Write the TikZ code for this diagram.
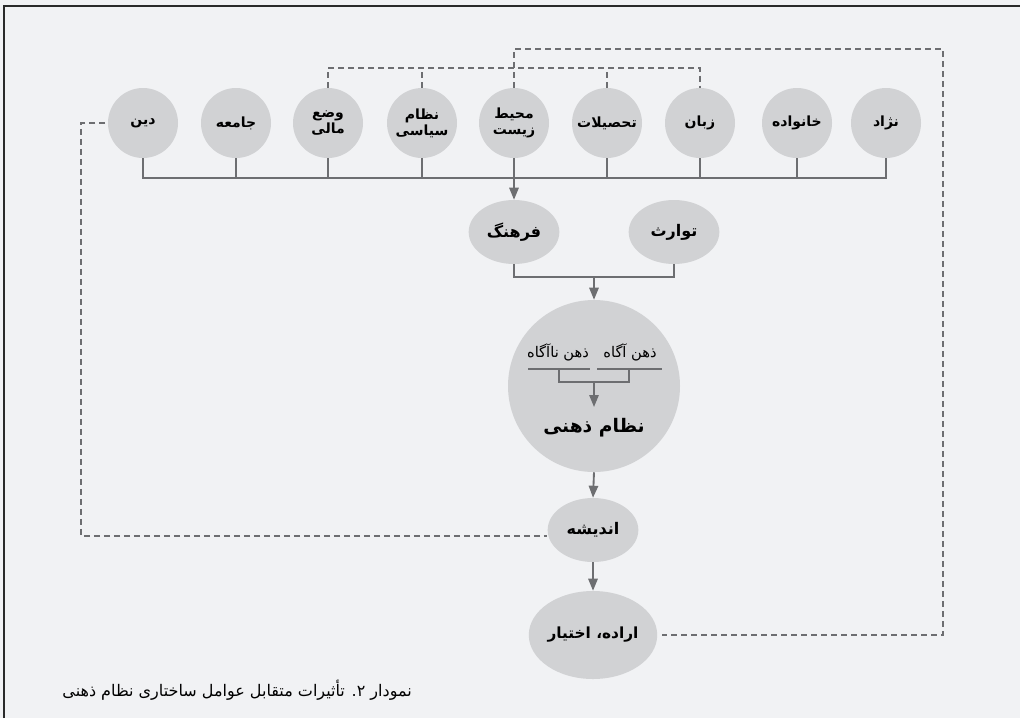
\documentclass[tikz,border=0pt]{standalone}
\usepackage{fontspec}
\usetikzlibrary{shapes.geometric,arrows.meta}
\TeXXeTstate=1
\newfontfamily\fa[Script=Arabic]{DejaVu Sans}
\definecolor{bgc}{HTML}{F1F2F4}
\definecolor{nodefill}{HTML}{D1D2D4}
\definecolor{lnc}{HTML}{6D6E71}
\definecolor{framec}{HTML}{2A2A2A}
\newcommand{\fatx}[1]{\beginR #1\endR}
\tikzset{
  circ/.style={circle,fill=nodefill,minimum size=52.5pt,inner sep=0pt,align=center,font=\fa\bfseries\fontsize{10.5}{12}\selectfont},
  ell/.style={ellipse,fill=nodefill,minimum width=68pt,minimum height=48pt,inner sep=0pt,font=\fa\bfseries\fontsize{12}{14}\selectfont},
  bigcirc/.style={circle,fill=nodefill,minimum size=129pt,inner sep=0pt},
  solid line/.style={draw=lnc,line width=1.4pt},
  arr/.style={draw=lnc,line width=1.4pt,-{Triangle[length=9pt,width=7pt,fill=lnc]}},
  dline/.style={draw=lnc,line width=1.3pt,dash pattern=on 4.5pt off 3pt},
  lbl/.style={font=\fa\fontsize{11}{13}\selectfont,inner sep=1pt},
}
\begin{document}
\begin{tikzpicture}[x=0.75pt,y=-0.75pt]
\fill[bgc] (0,0) rectangle (1020,718);
\useasboundingbox (0,0) rectangle (1020,718);
\draw[framec,line width=1.3pt] (4,718) -- (4,6) -- (1020,6);
% top row
\node[circ] (din) at (143,123) {\fatx{دین}};
\node[circ] (jameh) at (236,123) {\fatx{جامعه}};
\node[circ] (vaz) at (328,123) {\fatx{وضع}\\\fatx{مالی}};
\node[circ] (nezam) at (422,123) {\fatx{نظام}\\\fatx{سیاسی}};
\node[circ] (mohit) at (514,123) {\fatx{محیط}\\\fatx{زیست}};
\node[circ] (tahsil) at (607,123) {\fatx{تحصیلات}};
\node[circ] (zaban) at (700,123) {\fatx{زبان}};
\node[circ] (khanevade) at (797,123) {\fatx{خانواده}};
\node[circ] (nezhad) at (886,123) {\fatx{نژاد}};
% culture / heredity
\node[ell] (farhang) at (514,232) {\fatx{فرهنگ}};
\node[ell] (tavaros) at (674,232) {\fatx{توارث}};
% mind system
\node[bigcirc] (zehn) at (594,386) {};
\node[lbl] (naagah) at (558,352) {\fatx{ذهن ناآگاه}};
\node[lbl] (agah) at (630,352) {\fatx{ذهن آگاه}};
\node[font=\fa\bfseries\fontsize{14}{16}\selectfont] (nezamzehni) at (594,428) {\fatx{نظام ذهنی}};
% thought, will
\node[ell] (andishe) at (593,530) {\fatx{اندیشه}};
\node[ell,minimum width=91.5pt,minimum height=66pt,font=\fa\bfseries\fontsize{11.5}{13}\selectfont] (erade) at (593,635) {\fatx{اراده، اختیار}};
% bus of top row
\draw[solid line] (din.south) -- ++(0,20) -| (nezhad.south);
\foreach \n in {jameh,vaz,nezam,tahsil,zaban,khanevade}{
  \draw[solid line] (\n.south) -- ++(0,20);
}
\draw[arr] (mohit.south) -- (farhang.north);
% farhang + tavaros join
\draw[solid line] (farhang.south) -- ++(0,13) -| (tavaros.south);
\coordinate (fj) at (594,277);
\draw[arr] (fj) -- (zehn.north);
% inner bracket
\coordinate (ul1) at (528,369);
\coordinate (ul2) at (590,369);
\coordinate (ur1) at (597,369);
\coordinate (ur2) at (662,369);
\draw[solid line] (ul1) -- (ul2);
\draw[solid line] (ur1) -- (ur2);
\draw[solid line] (559,369) -- (559,382) -- (629,382) -- (629,369);
\coordinate (ij) at (594,382);
\draw[arr] (ij) -- (594,407);
% down chain
\draw[arr] (zehn.south) -- (andishe.north);
\draw[arr] (andishe.south) -- (erade.north);
% dashed feedback
\coordinate (topR) at (943,49);
\draw[dline] (mohit.north) -- (514,49) -- (topR) -- (topR |- erade.east) -- ([xshift=3pt]erade.east);
\draw[dline] (vaz.north) -- ++(0,-20) -| (zaban.north);
\draw[dline] (nezam.north) -- ++(0,-20);
\draw[dline] (tahsil.north) -- ++(0,-20);
\coordinate (lc) at (81,123);
\coordinate (lb) at (81,536);
\draw[dline] ([xshift=-2pt]din.west) -- (lc) -- (lb) -- (andishe.west |- lb);
% caption
\node[anchor=east,font=\fa\fontsize{12}{14}\selectfont,inner sep=0pt] (cap) at (412,690) {\fatx{نمودار ۲. تأثیرات متقابل عوامل ساختاری نظام ذهنی}};
\end{tikzpicture}
\end{document}
